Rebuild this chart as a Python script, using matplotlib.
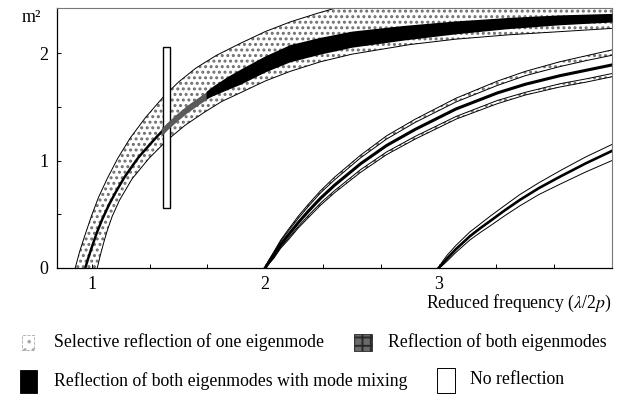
import numpy as np
import matplotlib
matplotlib.use('Agg')
import matplotlib.pyplot as plt
from matplotlib.patches import Rectangle

plt.rcParams['font.family'] = ['Liberation Serif', 'DejaVu Serif']
plt.rcParams['mathtext.fontset'] = 'stix'
plt.rcParams['hatch.linewidth'] = 1.4

# first order: selective reflection band (outer edges)
band1_top_x = [0.905, 0.93, 0.96, 1.0, 1.04, 1.089, 1.15, 1.222, 1.31, 1.412, 1.5, 1.6, 1.72, 1.856, 2.0, 2.144, 2.3, 2.45, 2.7, 3.2, 4.0]
band1_top_y = [0.0, 0.15, 0.30, 0.49, 0.66, 0.83, 1.02, 1.21, 1.40, 1.59, 1.73, 1.86, 1.98, 2.09, 2.20, 2.29, 2.37, 2.44, 2.53, 2.63, 2.72]
band1_bot_x = [1.032, 1.05, 1.07, 1.09, 1.118, 1.16, 1.233, 1.33, 1.435, 1.54, 1.65, 1.75, 1.856, 2.0, 2.144, 2.32, 2.5, 2.836, 3.1, 3.4, 3.7, 4.0]
band1_bot_y = [0.0, 0.12, 0.24, 0.35, 0.48, 0.63, 0.83, 1.02, 1.19, 1.33, 1.45, 1.55, 1.63, 1.74, 1.83, 1.92, 1.99, 2.08, 2.13, 2.17, 2.20, 2.23]

# first order: thin mode-mixing line
line1_x = [0.963, 0.98, 1.0, 1.03, 1.06, 1.1, 1.14, 1.187, 1.23, 1.27, 1.33, 1.38, 1.435, 1.49, 1.55, 1.62, 1.683]
line1_y = [0.0, 0.09, 0.19, 0.33, 0.45, 0.59, 0.71, 0.84, 0.94, 1.03, 1.14, 1.23, 1.32, 1.40, 1.48, 1.56, 1.63]

# first order: reflection of both eigenmodes
both1_x = [1.40, 1.435, 1.49, 1.55, 1.62, 1.67]
both1_top = [1.295, 1.355, 1.435, 1.515, 1.595, 1.65]
both1_bot = [1.225, 1.285, 1.365, 1.445, 1.525, 1.58]

# first order: thick mode-mixing band
mix1_x = [1.66, 1.70, 1.78, 1.856, 2.0, 2.144, 2.32, 2.5, 2.8, 3.1, 3.4, 3.7, 4.0]
mix1_top = [1.645, 1.695, 1.78, 1.85, 1.975, 2.08, 2.148, 2.205, 2.258, 2.30, 2.332, 2.356, 2.37]
mix1_bot = [1.575, 1.605, 1.66, 1.71, 1.825, 1.92, 1.992, 2.055, 2.122, 2.18, 2.228, 2.264, 2.29]

# second order
b2_x = [2.0, 2.02, 2.05, 2.09, 2.13, 2.19, 2.25, 2.32, 2.4, 2.55, 2.7, 2.865, 3.1, 3.34, 3.5, 3.7, 3.85, 4.0]
b2_up_out = [0.0, 0.07, 0.15, 0.26, 0.35, 0.48, 0.595, 0.72, 0.845, 1.05, 1.23, 1.385, 1.58, 1.74, 1.83, 1.92, 1.975, 2.03]
b2_up_in = [0.0, 0.065, 0.14, 0.25, 0.335, 0.46, 0.575, 0.70, 0.82, 1.025, 1.20, 1.355, 1.545, 1.70, 1.79, 1.875, 1.93, 1.98]
b2_center = [0.0, 0.05, 0.12, 0.22, 0.30, 0.42, 0.53, 0.65, 0.77, 0.97, 1.14, 1.29, 1.48, 1.63, 1.71, 1.79, 1.84, 1.89]
b2_lo_in = [0.0, 0.04, 0.10, 0.195, 0.27, 0.385, 0.49, 0.605, 0.72, 0.915, 1.08, 1.225, 1.41, 1.56, 1.635, 1.715, 1.76, 1.81]
b2_lo_out = [0.0, 0.035, 0.09, 0.185, 0.255, 0.37, 0.47, 0.585, 0.70, 0.89, 1.055, 1.20, 1.385, 1.53, 1.61, 1.685, 1.73, 1.78]

# third order
b3_x = [3.0, 3.02, 3.05, 3.1, 3.18, 3.24, 3.3, 3.38, 3.47, 3.58, 3.7, 3.85, 4.0]
b3_upper = [0.0, 0.055, 0.12, 0.21, 0.335, 0.41, 0.485, 0.58, 0.685, 0.795, 0.905, 1.035, 1.15]
b3_center = [0.0, 0.035, 0.09, 0.175, 0.295, 0.37, 0.44, 0.535, 0.635, 0.745, 0.85, 0.975, 1.09]
b3_lower = [0.0, 0.02, 0.065, 0.145, 0.26, 0.33, 0.395, 0.485, 0.58, 0.685, 0.78, 0.895, 1.00]

# vertical window
window_x = [1.41, 1.45]
window_y = [0.56, 2.06]

legend_labels = ['Selective reflection of one eigenmode', 'Reflection of both eigenmodes',
                 'Reflection of both eigenmodes with mode mixing', 'No reflection']

W, H = 623, 396
fig = plt.figure(figsize=(W / 100, H / 100), dpi=100)
ax = fig.add_axes([57 / W, 1 - 268 / H, (612 - 57) / W, (268 - 8) / H])

dots = '#6e6e6e'

# selective reflection band 1
poly_x = band1_top_x + band1_bot_x[::-1]
poly_y = band1_top_y + band1_bot_y[::-1]
ax.fill(poly_x, poly_y, facecolor='white', edgecolor=dots, hatch='...', linewidth=0, zorder=1)
ax.plot(band1_top_x, band1_top_y, color='black', lw=0.7, zorder=2)
ax.plot(band1_bot_x, band1_bot_y, color='black', lw=0.7, zorder=2)

ax.add_patch(Rectangle((window_x[0], window_y[0]), window_x[1] - window_x[0], window_y[1] - window_y[0],
                       facecolor='white', edgecolor='black', lw=1.0, zorder=3))

ax.plot(line1_x, line1_y, color='black', lw=1.8, zorder=4, solid_capstyle='butt')
ax.fill_between(both1_x, both1_bot, both1_top, color='#5a5a5a', lw=0, zorder=4)
ax.fill_between(mix1_x, mix1_bot, mix1_top, color='black', lw=0, zorder=4)

# second order
ax.fill_between(b2_x, b2_up_in, b2_up_out, facecolor='white', edgecolor=dots, hatch='...', lw=0, zorder=1)
ax.fill_between(b2_x, b2_lo_out, b2_lo_in, facecolor='white', edgecolor=dots, hatch='...', lw=0, zorder=1)
for ys in (b2_up_out, b2_up_in, b2_lo_in, b2_lo_out):
    ax.plot(b2_x, ys, color='black', lw=0.7, zorder=2)
ax.plot(b2_x, b2_center, color='black', lw=2.2, zorder=4)

# third order
ax.plot(b3_x, b3_upper, color='black', lw=0.7, zorder=2)
ax.plot(b3_x, b3_lower, color='black', lw=0.7, zorder=2)
ax.plot(b3_x, b3_center, color='black', lw=1.9, zorder=4)

ax.set_xlim(0.8, 4.0)
ax.set_ylim(0, 2.42)
xt = [1 + k / 3 for k in range(9)]
ax.set_xticks(xt)
ax.set_xticklabels(['1', '', '', '2', '', '', '3', '', ''])
ax.set_yticks([0, 0.5, 1, 1.5, 2])
ax.set_yticklabels(['0', '', '1', '', '2'])
ax.tick_params(direction='in', length=3, width=0.7, labelsize=13, pad=6)
ax.tick_params(axis='y', pad=6)
for side in ('left', 'bottom'):
    ax.spines[side].set_linewidth(0.9)
for side in ('top', 'right'):
    ax.spines[side].set_linewidth(0.8)
    ax.spines[side].set_color('#777777')

fig.text(22 / W, 1 - 17 / H, 'm²', fontsize=13, ha='left', va='center')
fig.text(612 / W, 1 - 303 / H, r'Reduced frequency ($\lambda$/2$p$)', fontsize=12.8, ha='right', va='center')

# legend
def fig_rect(x0, y0, x1, y1, **kw):
    fig.add_artist(Rectangle((x0 / W, 1 - y1 / H), (x1 - x0) / W, (y1 - y0) / H,
                             transform=fig.transFigure, **kw))

fig_rect(22, 335, 34, 350, facecolor='white', edgecolor='#aaaaaa', hatch='..', lw=0.6, ls='--')
fig_rect(354, 334, 372, 351, facecolor='#6a6a6a', edgecolor='#2a2a2a', hatch='++', lw=0.6)
fig_rect(20, 370, 37, 393, facecolor='black', edgecolor='black', lw=0.6)
fig_rect(437, 368, 455, 393, facecolor='white', edgecolor='black', lw=0.7)

fig.text(54 / W, 1 - 342 / H, legend_labels[0], fontsize=12.8, ha='left', va='center')
fig.text(388 / W, 1 - 342 / H, legend_labels[1], fontsize=12.8, ha='left', va='center')
fig.text(54 / W, 1 - 381 / H, legend_labels[2], fontsize=12.8, ha='left', va='center')
fig.text(470 / W, 1 - 379 / H, legend_labels[3], fontsize=12.8, ha='left', va='center')

fig.savefig('out.png', dpi=100)
